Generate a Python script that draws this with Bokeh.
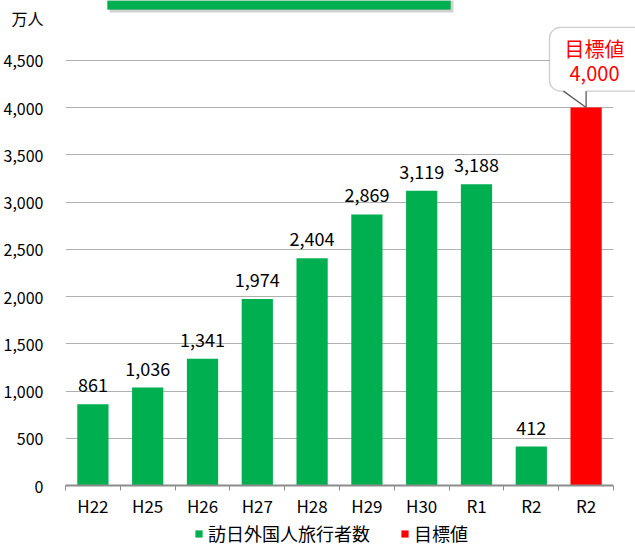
from bokeh.plotting import figure
from bokeh.layouts import column
from bokeh.models import (Range1d, FixedTicker, NumeralTickFormatter, LabelSet, Label,
                          ColumnDataSource, Legend, LegendItem, BoxAnnotation,
                          PolyAnnotation, Arrow)
from bokeh.core.properties import value
from bokeh.embed import file_html
from bokeh.resources import INLINE

# ---------------- data ----------------
categories = ["H22", "H25", "H26", "H27", "H28", "H29", "H30", "R1", "R2", "R2"]
visitors = [861, 1036, 1341, 1974, 2404, 2869, 3119, 3188, 412]
target_value = [4000]
y_ticks = list(range(0, 4501, 500))
series_name = "訪日外国人旅行者数"
target_name = "目標値"
unit_label = "万人"
unit_tick = 4950

FONT = "Noto Sans CJK JP"
GREEN = "#00B050"
RED = "#FF0000"

# ---------------- geometry (canvas px) ----------------
W = 635
H_MAIN, H_LEG = 520, 26
FL, FT, FB = 65, 0, 487
AXIS_RIGHT = 613
Y_4500_PX = 60
X0, X1 = -0.5, len(categories) - 0.5
PX_PER_X = (AXIS_RIGHT - FL) / (X1 - X0)
X_END = X0 + (W - FL) / PX_PER_X
Y1 = 4500 * (FB - FT) / (FB - Y_4500_PX)


def xd(px):
    return X0 + (px - FL) / PX_PER_X


def yd(py):
    return (FB - py) / (FB - FT) * Y1


p = figure(width=W, height=H_MAIN, output_backend="svg", toolbar_location=None,
           x_range=Range1d(X0, X_END), y_range=Range1d(0, Y1),
           min_border_left=FL, min_border_right=0,
           min_border_top=FT, min_border_bottom=H_MAIN - FB)
p.outline_line_color = None
p.background_fill_color = "white"
p.border_fill_color = "white"

# bars
xs_vis = list(range(len(visitors)))
src = ColumnDataSource(dict(x=xs_vis, top=visitors,
                            label=[f"{v:,}" for v in visitors]))
p.vbar(x="x", top="top", width=0.57, source=src, fill_color=GREEN, line_color=None)
xs_tgt = [len(categories) - 1]
src2 = ColumnDataSource(dict(x=xs_tgt, top=target_value))
p.vbar(x="x", top="top", width=0.57, source=src2, fill_color=RED, line_color=None)

p.add_layout(LabelSet(x="x", y="top", text="label", source=src, text_align="center",
                      text_baseline="alphabetic", y_offset=12,
                      text_font=value(FONT), text_font_size="18px", text_color="black"))

# grid
p.xgrid.visible = False
g = p.ygrid[0]
g.ticker = FixedTicker(ticks=y_ticks)
g.grid_line_color = "#B0B0B0"
g.grid_line_width = 1

# x axis
xa = p.xaxis[0]
xa.bounds = (X0, X1)
xa.ticker = FixedTicker(ticks=list(range(len(categories))),
                        minor_ticks=[i - 0.5 for i in range(len(categories) + 1)])
xa.major_label_overrides = {i: c for i, c in enumerate(categories)}
xa.major_tick_out = 0
xa.major_tick_in = 0
xa.minor_tick_out = 5
xa.minor_tick_in = 0
xa.minor_tick_line_color = "#8C8C8C"
xa.minor_tick_line_width = 1
xa.axis_line_color = "#8C8C8C"
xa.axis_line_width = 2
xa.major_label_text_font = FONT
xa.major_label_text_font_size = "17px"
xa.major_label_text_color = "black"
xa.major_label_standoff = 2

# y axis (unit shown as top label of the axis)
ya = p.yaxis[0]
ya.ticker = FixedTicker(ticks=y_ticks + [unit_tick])
ya.formatter = NumeralTickFormatter(format="0,0")
ya.major_label_overrides = {unit_tick: unit_label}
ya.axis_line_color = None
ya.major_tick_line_color = None
ya.minor_tick_line_color = None
ya.major_tick_out = 0
ya.major_tick_in = 0
ya.major_label_text_font = FONT
ya.major_label_text_font_size = "16px"
ya.major_label_text_color = "black"
ya.major_label_standoff = 22

# keep grid lines from running past the last category
p.add_layout(BoxAnnotation(left=X1, right=None, bottom=None, top=None,
                           fill_color="white", fill_alpha=1, line_color=None))

# title strip (cut off at top)
p.add_layout(BoxAnnotation(left=xd(109), right=xd(453), bottom=yd(12), top=None,
                           fill_color="#7F7F7F", fill_alpha=0.35, line_color=None))
p.add_layout(BoxAnnotation(left=xd(107), right=xd(450), bottom=yd(9), top=None,
                           fill_color=GREEN, fill_alpha=1, line_color="#1F8F4A",
                           line_width=1))

# callout
tx = xs_tgt[0]
tv = target_value[0]
p.add_layout(BoxAnnotation(left=xd(549), right=xd(655), top=yd(27), bottom=yd(91),
                           fill_color="white", fill_alpha=1, line_color="#595959",
                           line_width=1.3, border_radius=11))
p.add_layout(PolyAnnotation(xs=[xd(563), tx, tx], ys=[yd(89.5), yd(89.5), tv],
                            fill_color="white", fill_alpha=1, line_color=None))
p.add_layout(Arrow(end=None, x_start=xd(563), y_start=yd(91), x_end=tx, y_end=tv,
                   line_color="#595959", line_width=1.3))
p.add_layout(Arrow(end=None, x_start=tx, y_start=yd(91), x_end=tx, y_end=tv,
                   line_color="#595959", line_width=1.3))
p.add_layout(Label(x=xd(594), y=yd(48), text=target_name, text_font=FONT,
                   text_font_size="20px", text_align="center", text_baseline="middle",
                   text_color=RED))
p.add_layout(Label(x=xd(594), y=yd(73), text=f"{tv:,}", text_font=FONT,
                   text_font_size="20px", text_align="center", text_baseline="middle",
                   text_color=RED))

# legend strip (separate figure below the chart)
q = figure(width=W, height=H_LEG, output_backend="svg", toolbar_location=None,
           x_range=Range1d(0, 1), y_range=Range1d(0, 1),
           x_axis_type=None, y_axis_type=None,
           min_border_left=0, min_border_right=0, min_border_top=0, min_border_bottom=0)
q.outline_line_color = None
q.xgrid.visible = False
q.ygrid.visible = False
l1 = q.vbar(x="x", top="top", width=0.57, source=src, fill_color=GREEN,
            line_color=None, visible=False)
l2 = q.vbar(x="x", top="top", width=0.57, source=src2, fill_color=RED,
            line_color=None, visible=False)
legend = Legend(items=[LegendItem(label=series_name, renderers=[l1]),
                       LegendItem(label=target_name, renderers=[l2])],
                orientation="horizontal", location=(129, 0),
                glyph_width=9, glyph_height=9, label_standoff=5, spacing=30,
                padding=0, margin=0, label_height=18,
                label_text_font=FONT, label_text_font_size="18px",
                label_text_color="black",
                border_line_color=None, background_fill_alpha=0)
q.add_layout(legend, "center")

layout = column(p, q, spacing=0)
open("out.html", "w").write(file_html(layout, INLINE))
